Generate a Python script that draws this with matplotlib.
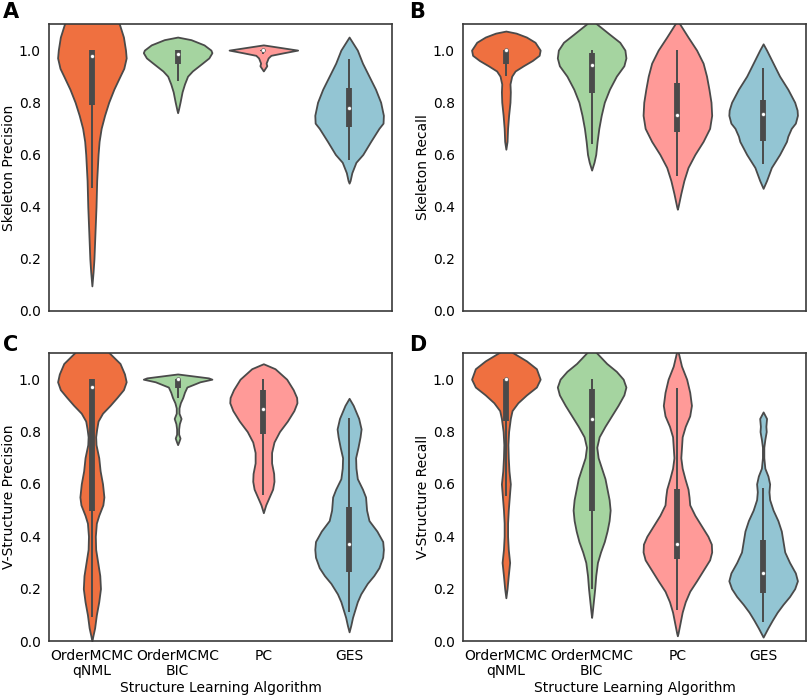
import matplotlib
matplotlib.use("Agg")
import matplotlib.pyplot as plt

# categories / colours
algorithms = ["OrderMCMC\nqNML", "OrderMCMC\nBIC", "PC", "GES"]
colors = ["#EF7040", "#A5D4A0", "#FF9A98", "#93C5D3"]

# ---- A: Skeleton Precision (violin outline: y values and relative half widths)
a_qnml_y = [1.28, 1.25, 1.2, 1.15, 1.1, 1.05, 1.0, 0.97, 0.93, 0.9, 0.85, 0.8, 0.75, 0.7,
            0.65, 0.6, 0.5, 0.4, 0.3, 0.2, 0.15, 0.096]
a_qnml_w = [0.0, 0.12, 0.38, 0.62, 0.8, 0.92, 0.98, 1.0, 0.93, 0.82, 0.64, 0.49, 0.37, 0.27,
            0.21, 0.18, 0.14, 0.12, 0.09, 0.06, 0.035, 0.0]
a_bic_y = [1.05, 1.04, 1.02, 1.0, 0.99, 0.97, 0.95, 0.92, 0.9, 0.87, 0.84, 0.8, 0.77, 0.76]
a_bic_w = [0.0, 0.39, 0.77, 0.97, 1.0, 0.91, 0.72, 0.43, 0.29, 0.2, 0.13, 0.07, 0.02, 0.0]
a_pc_y = [1.02, 1.01, 1.0, 0.99, 0.98, 0.97, 0.95, 0.94, 0.93, 0.92]
a_pc_w = [0.0, 0.5, 1.0, 0.6, 0.22, 0.14, 0.08, 0.1, 0.05, 0.0]
a_ges_y = [1.05, 1.0, 0.95, 0.9, 0.85, 0.8, 0.75, 0.72, 0.7, 0.65, 0.6, 0.57, 0.53, 0.5, 0.49]
a_ges_w = [0.0, 0.24, 0.39, 0.58, 0.77, 0.92, 1.0, 0.99, 0.87, 0.63, 0.40, 0.2, 0.08, 0.03, 0.0]
# inner box: whisker low, q1, median, q3, whisker high
a_box = [[0.47, 0.79, 0.977, 1.0, 1.0],
         [0.883, 0.948, 0.985, 1.0, 1.0],
         [0.985, 0.995, 1.0, 1.0, 1.0],
         [0.58, 0.704, 0.778, 0.855, 0.964]]

# ---- B: Skeleton Recall
b_qnml_y = [1.073, 1.065, 1.05, 1.03, 1.0, 0.98, 0.96, 0.94, 0.92, 0.9, 0.87, 0.84, 0.8,
            0.75, 0.7, 0.65, 0.62]
b_qnml_w = [0.0, 0.3, 0.6, 0.85, 1.0, 0.97, 0.77, 0.51, 0.27, 0.17, 0.12, 0.13, 0.12,
            0.08, 0.05, 0.035, 0.0]
b_bic_y = [1.12, 1.1, 1.06, 1.03, 1.0, 0.97, 0.94, 0.9, 0.85, 0.8, 0.75, 0.7, 0.65, 0.6,
           0.57, 0.54]
b_bic_w = [0.0, 0.15, 0.53, 0.82, 0.97, 1.0, 0.94, 0.72, 0.52, 0.37, 0.28, 0.21, 0.16,
           0.12, 0.07, 0.0]
b_pc_y = [1.11, 1.1, 1.05, 1.0, 0.95, 0.9, 0.85, 0.8, 0.75, 0.7, 0.65, 0.6, 0.55, 0.5,
          0.45, 0.4, 0.39]
b_pc_w = [0.0, 0.07, 0.31, 0.56, 0.75, 0.85, 0.92, 0.98, 1.0, 0.94, 0.75, 0.51, 0.31,
          0.19, 0.1, 0.02, 0.0]
b_ges_y = [1.024, 1.0, 0.95, 0.9, 0.85, 0.8, 0.77, 0.75, 0.72, 0.7, 0.67, 0.65, 0.6,
           0.55, 0.5, 0.47]
b_ges_w = [0.0, 0.1, 0.29, 0.48, 0.72, 0.92, 0.99, 1.0, 0.94, 0.82, 0.72, 0.68, 0.48,
           0.24, 0.1, 0.0]
b_box = [[0.9, 0.945, 1.0, 1.0, 1.0],
         [0.641, 0.836, 0.944, 0.99, 1.0],
         [0.516, 0.686, 0.75, 0.875, 1.0],
         [0.563, 0.65, 0.755, 0.81, 0.932]]

# ---- C: V-Structure Precision
c_qnml_y = [1.2, 1.15, 1.1, 1.06, 1.02, 0.99, 0.96, 0.93, 0.9, 0.87, 0.84, 0.81, 0.78,
            0.75, 0.7, 0.65, 0.6, 0.55, 0.52, 0.48, 0.45, 0.4, 0.35, 0.3, 0.25, 0.2,
            0.15, 0.1, 0.05, 0.02, 0.0]
c_qnml_w = [0.0, 0.25, 0.51, 0.82, 0.95, 1.0, 0.92, 0.73, 0.53, 0.31, 0.18, 0.14, 0.11,
            0.12, 0.2, 0.24, 0.31, 0.35, 0.32, 0.2, 0.13, 0.1, 0.11, 0.17, 0.23, 0.25,
            0.2, 0.13, 0.08, 0.03, 0.0]
c_bic_y = [1.02, 1.015, 1.005, 1.0, 0.99, 0.97, 0.95, 0.93, 0.91, 0.89, 0.87, 0.85, 0.83,
           0.81, 0.79, 0.775, 0.76, 0.75]
c_bic_w = [0.0, 0.3, 0.9, 1.0, 0.65, 0.27, 0.2, 0.15, 0.08, 0.04, 0.04, 0.1, 0.05, 0.03,
           0.03, 0.07, 0.03, 0.0]
c_pc_y = [1.059, 1.04, 1.0, 0.96, 0.93, 0.91, 0.88, 0.84, 0.8, 0.76, 0.72, 0.68, 0.64,
          0.61, 0.58, 0.55, 0.52, 0.49]
c_pc_w = [0.0, 0.34, 0.68, 0.87, 0.97, 0.98, 0.89, 0.7, 0.47, 0.31, 0.24, 0.24, 0.3,
          0.31, 0.27, 0.17, 0.07, 0.0]
c_ges_y = [0.927, 0.9, 0.85, 0.81, 0.78, 0.74, 0.7, 0.66, 0.62, 0.58, 0.55, 0.5, 0.46,
           0.42, 0.38, 0.35, 0.32, 0.28, 0.25, 0.22, 0.18, 0.15, 0.12, 0.09, 0.06, 0.035]
c_ges_w = [0.0, 0.12, 0.28, 0.35, 0.32, 0.26, 0.19, 0.2, 0.24, 0.39, 0.48, 0.51, 0.58,
           0.81, 0.98, 1.0, 0.98, 0.87, 0.72, 0.53, 0.34, 0.24, 0.17, 0.1, 0.05, 0.0]
c_box = [[0.092, 0.495, 0.97, 1.0, 1.0],
         [0.93, 0.968, 1.0, 1.0, 1.0],
         [0.556, 0.789, 0.887, 0.959, 1.0],
         [0.111, 0.262, 0.371, 0.512, 0.85]]

# ---- D: V-Structure Recall
d_qnml_y = [1.12, 1.1, 1.07, 1.04, 1.0, 0.97, 0.94, 0.91, 0.88, 0.85, 0.8, 0.75, 0.7,
            0.65, 0.6, 0.55, 0.5, 0.45, 0.4, 0.35, 0.3, 0.25, 0.2, 0.165]
d_qnml_w = [0.0, 0.22, 0.6, 0.89, 1.0, 0.89, 0.6, 0.35, 0.18, 0.13, 0.08, 0.06, 0.07,
            0.09, 0.13, 0.1, 0.07, 0.05, 0.05, 0.07, 0.11, 0.07, 0.035, 0.0]
d_bic_y = [1.12, 1.1, 1.06, 1.03, 1.0, 0.97, 0.94, 0.9, 0.86, 0.82, 0.78, 0.74, 0.7,
           0.66, 0.62, 0.58, 0.54, 0.5, 0.46, 0.42, 0.38, 0.34, 0.3, 0.25, 0.2, 0.15,
           0.1, 0.09]
d_bic_w = [0.0, 0.15, 0.44, 0.72, 0.92, 1.0, 0.94, 0.77, 0.58, 0.39, 0.22, 0.15, 0.19,
           0.29, 0.39, 0.45, 0.51, 0.54, 0.51, 0.45, 0.37, 0.26, 0.17, 0.12, 0.09, 0.05,
           0.01, 0.0]
d_pc_y = [1.11, 1.1, 1.05, 1.0, 0.95, 0.9, 0.86, 0.82, 0.78, 0.74, 0.7, 0.66, 0.62, 0.58,
          0.55, 0.52, 0.48, 0.44, 0.4, 0.37, 0.34, 0.31, 0.27, 0.23, 0.19, 0.15, 0.11,
          0.07, 0.03, 0.02]
d_pc_w = [0.0, 0.03, 0.12, 0.27, 0.36, 0.41, 0.36, 0.23, 0.14, 0.12, 0.1, 0.14, 0.22,
          0.31, 0.34, 0.36, 0.51, 0.7, 0.89, 0.99, 1.0, 0.94, 0.75, 0.56, 0.36, 0.23,
          0.14, 0.08, 0.02, 0.0]
d_ges_y = [0.875, 0.85, 0.82, 0.8, 0.77, 0.74, 0.7, 0.66, 0.63, 0.6, 0.57, 0.54, 0.5,
           0.46, 0.42, 0.38, 0.34, 0.3, 0.26, 0.23, 0.2, 0.17, 0.14, 0.11, 0.08, 0.05,
           0.03, 0.015]
d_ges_w = [0.0, 0.1, 0.08, 0.09, 0.05, 0.02, 0.02, 0.05, 0.14, 0.19, 0.17, 0.19, 0.29,
           0.43, 0.53, 0.58, 0.63, 0.77, 0.94, 1.0, 0.92, 0.77, 0.58, 0.41, 0.27, 0.14,
           0.06, 0.0]
d_box = [[0.552, 0.84, 1.0, 1.0, 1.0],
         [0.2, 0.495, 0.847, 0.964, 1.0],
         [0.12, 0.313, 0.37, 0.582, 0.965],
         [0.073, 0.184, 0.258, 0.386, 0.584]]

GRAY = "#4a4a4a"
FS = 10


def draw_violins(ax, shapes, boxes):
    for i, ((ys, ws), box) in enumerate(zip(shapes, boxes)):
        left = [i - 0.4 * w for w in ws]
        right = [i + 0.4 * w for w in ws]
        ax.fill_betweenx(ys, left, right, facecolor=colors[i], edgecolor=GRAY,
                         linewidth=1.3, zorder=1)
        lo, q1, med, q3, hi = box
        ax.plot([i, i], [lo, hi], color=GRAY, lw=1.4, solid_capstyle="butt", zorder=2)
        ax.plot([i, i], [q1, q3], color=GRAY, lw=4.2, solid_capstyle="butt", zorder=2)
        ax.scatter([i], [med], s=8, color="white", edgecolor=GRAY, lw=0.4, zorder=3)
    ax.set_xlim(-0.5, 3.5)
    ax.set_ylim(0, 1.1)
    ax.set_yticks([0.0, 0.2, 0.4, 0.6, 0.8, 1.0])
    ax.set_yticklabels(["0.0", "0.2", "0.4", "0.6", "0.8", "1.0"])
    ax.set_xticks(range(4))
    ax.tick_params(length=0, pad=6, labelsize=FS)
    for s in ax.spines.values():
        s.set_color("#3a3a3a")
        s.set_linewidth(1.2)


fig = plt.figure(figsize=(8.09, 6.96), dpi=100)
ax_a = fig.add_axes([0.0606, 0.5532, 0.4239, 0.4123])
ax_b = fig.add_axes([0.5723, 0.5532, 0.4240, 0.4123])
ax_c = fig.add_axes([0.0606, 0.0790, 0.4239, 0.4138])
ax_d = fig.add_axes([0.5723, 0.0790, 0.4240, 0.4138])

draw_violins(ax_a, [(a_qnml_y, a_qnml_w), (a_bic_y, a_bic_w), (a_pc_y, a_pc_w),
                    (a_ges_y, a_ges_w)], a_box)
draw_violins(ax_b, [(b_qnml_y, b_qnml_w), (b_bic_y, b_bic_w), (b_pc_y, b_pc_w),
                    (b_ges_y, b_ges_w)], b_box)
draw_violins(ax_c, [(c_qnml_y, c_qnml_w), (c_bic_y, c_bic_w), (c_pc_y, c_pc_w),
                    (c_ges_y, c_ges_w)], c_box)
draw_violins(ax_d, [(d_qnml_y, d_qnml_w), (d_bic_y, d_bic_w), (d_pc_y, d_pc_w),
                    (d_ges_y, d_ges_w)], d_box)

for ax in (ax_a, ax_b):
    ax.set_xticklabels([])
for ax in (ax_c, ax_d):
    ax.set_xticklabels(algorithms, fontsize=FS, linespacing=1.05)
    ax.set_xlabel("Structure Learning Algorithm", fontsize=FS, labelpad=2)

ax_a.set_ylabel("Skeleton Precision", fontsize=FS, labelpad=2)
ax_b.set_ylabel("Skeleton Recall", fontsize=FS, labelpad=2)
ax_c.set_ylabel("V-Structure Precision", fontsize=FS, labelpad=2)
ax_d.set_ylabel("V-Structure Recall", fontsize=FS, labelpad=2)

for label, x, y in [("A", 0.013, 0.983), ("B", 0.516, 0.983),
                    ("C", 0.013, 0.505), ("D", 0.516, 0.505)]:
    fig.text(x, y, label, fontsize=15, fontweight="bold", ha="center", va="center")

fig.savefig("out.png", dpi=100)
